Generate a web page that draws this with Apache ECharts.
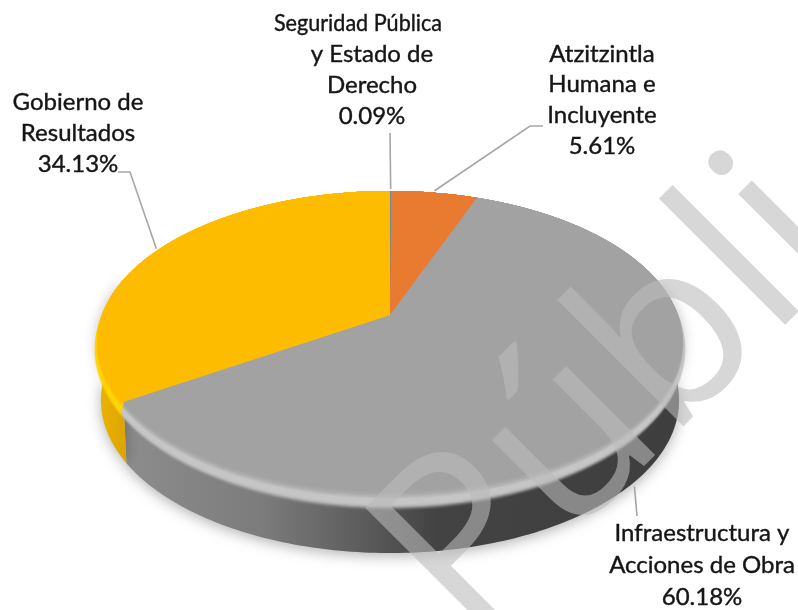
<!DOCTYPE html>
<html><head><meta charset="utf-8">
<style>html,body{margin:0;padding:0;background:#fff}#c{width:798px;height:610px}</style>
<script src="https://cdn.jsdelivr.net/npm/echarts@6/dist/echarts.min.js"></script>
</head><body><div id="c"></div>
<script>
// Data, clockwise from twelve o'clock
const categories = ["Seguridad Pública\ny Estado de\nDerecho", "Atzitzintla\nHumana e\nIncluyente", "Infraestructura y\nAcciones de Obra", "Gobierno de\nResultados"];
const shares = [0.09, 5.61, 60.18, 34.13];
const faceColors = ["#6f8a9c", "#e87b2f", "#a2a2a2", "#fdbc00"];
const rimColors = ["#8fa5b5", "#f29a5e", "#c6c6c6", "#ffd500"];
const watermark = "Públi";

// Layout (perspective disc)
const CX = 390, CY = 315, K = 0.1706, A = 287.7, B = 145.2;
const DROP = 59.5, BOTTOM_SX = 0.99, BOTTOM_SY = 1.02, BACK_Y = 191;
const labelLayout = [
  {x: 372, y: 23,  step: 31, first: {dx: -14, sx: 0.9}, anchor: 0, path: [[390, 133]]},
  {x: 602, y: 54,  step: 30.7, anchor: 0, path: [[530, 126], [543, 126]]},
  {x: 702, y: 533, step: 32, anchor: 1, path: [[637, 516]], shiftX: -4},
  {x: 78,  y: 102, step: 31, anchor: 0, path: [[130, 172], [118, 172]]}
];
const total = shares.reduce((a, b) => a + b, 0);
const cum = []; shares.reduce((a, b, i) => (cum[i] = a, a + b), 0);

function project(deg) {
  const t = deg * Math.PI / 180, u = Math.sin(t), v = -Math.cos(t), w = 1 - K * v;
  return [CX + A * u / w, CY + B * v / w];
}
function arcPts(a0, a1) {
  const n = Math.max(2, Math.ceil(Math.abs(a1 - a0))), out = [];
  for (let i = 0; i <= n; i++) out.push(project(a0 + (a1 - a0) * i / n));
  return out;
}
function toBottom(p) { return [CX + (p[0] - CX) * BOTTOM_SX, CY + (p[1] - CY) * BOTTOM_SY + DROP]; }
function mix(c1, c2, t) {
  const h = c => [1, 3, 5].map(i => parseInt(c.substr(i, 2), 16));
  const a = h(c1), b = h(c2);
  return 'rgb(' + a.map((v, i) => Math.round(v + (b[i] - v) * t)).join(',') + ')';
}
const sideFill = [
  null, null,
  new echarts.graphic.LinearGradient(120, 0, 684, 0, [
    {offset: 0, color: '#8d8d8d'}, {offset: .25, color: '#7c7c7c'}, {offset: .42, color: '#5e5e5e'},
    {offset: .56, color: '#434343'}, {offset: 1, color: '#3e3e3e'}], true),
  new echarts.graphic.LinearGradient(96, 0, 130, 0, [
    {offset: 0, color: '#eeb400'}, {offset: 1, color: '#d9a300'}], true)
];

function renderSlice(params, api) {
  const i = params.dataIndex, val = api.value(0);
  const a0 = cum[i] / total * 360, a1 = (cum[i] + val) / total * 360;
  const arc = arcPts(a0, a1), face = [[CX, CY]].concat(arc);
  const children = [];

  // Side wall: only the part facing the viewer
  const s0 = Math.max(a0, 75), s1 = Math.min(a1, 285);
  if (s1 > s0 && sideFill[i]) {
    const top = arcPts(s0, s1);
    children.push({type: 'polygon', z2: 1,
      shape: {points: top.concat(top.map(toBottom).reverse())},
      style: {fill: sideFill[i], shadowBlur: 14, shadowColor: 'rgba(0,0,0,.30)', shadowOffsetY: 3, shadowOffsetX: 0}});
  }
  // Bevel: copies of the slice growing out of the face
  const N = 30;
  for (let n = N; n >= 1; n--) {
    const t = n / N;
    const pts = face.map(p => [CX + (p[0] - CX) * (1 + .014 * t), BACK_Y + (p[1] - BACK_Y) * (1 + .075 * t)]);
    let fill, op = 1;
    if (t < .42) { const q = t / .42; fill = mix(faceColors[i], rimColors[i], q * q); }
    else { fill = rimColors[i]; op = 1 - (t - .42) / .58; op = op * op * (3 - 2 * op); }
    children.push({type: 'polygon', z2: 20 + N - n, shape: {points: pts}, style: {fill: fill, opacity: op}});
  }
  // Top face
  children.push({type: 'polygon', z2: 55, shape: {points: face}, style: {fill: faceColors[i]}});

  // Leader and label
  const mid = (a0 + a1) / 2, L = labelLayout[i];
  let p = project(mid);
  if (L.anchor) p = toBottom(p); else p = [p[0], p[1] - 2];
  children.push({type: 'polyline', z2: 60, shape: {points: [[p[0] + (L.shiftX || 0), p[1] + (L.anchor ? 8 : 0)]].concat(L.path)},
    style: {stroke: '#a6a6a6', lineWidth: 1.6, fill: null}});
  (categories[i] + '\n' + val.toFixed(2) + '%').split('\n').forEach((line, n) => {
    const adj = (n === 0 && L.first) || {dx: 0, sx: 1};
    children.push({type: 'text', z2: 60, x: L.x + adj.dx, y: L.y + n * L.step, scaleX: adj.sx, style: {
      x: 0, y: 0, text: line,
      font: '24px Lato, "Open Sans", sans-serif', fill: '#151515', stroke: '#151515', lineWidth: 0.4,
      textAlign: 'center', textVerticalAlign: 'middle'}});
  });
  return {type: 'group', children: children};
}

const chart = echarts.init(document.getElementById('c'), null, {renderer: 'canvas'});
chart.setOption({
  animation: false,
  backgroundColor: '#fff',
  series: [{
    type: 'custom', coordinateSystem: 'none', silent: true, clip: false,
    data: shares.map(v => [v]),
    encode: {value: 0},
    renderItem: renderSlice
  }],
  graphic: [{
    type: 'text', z: 1000, silent: true, x: 337, y: 512, rotation: Math.PI / 4,
    style: {text: watermark, font: '235px "Open Sans", sans-serif', fill: 'rgba(187,187,187,.59)',
      textAlign: 'left', textVerticalAlign: 'top'}
  }]
});
</script></body></html>
